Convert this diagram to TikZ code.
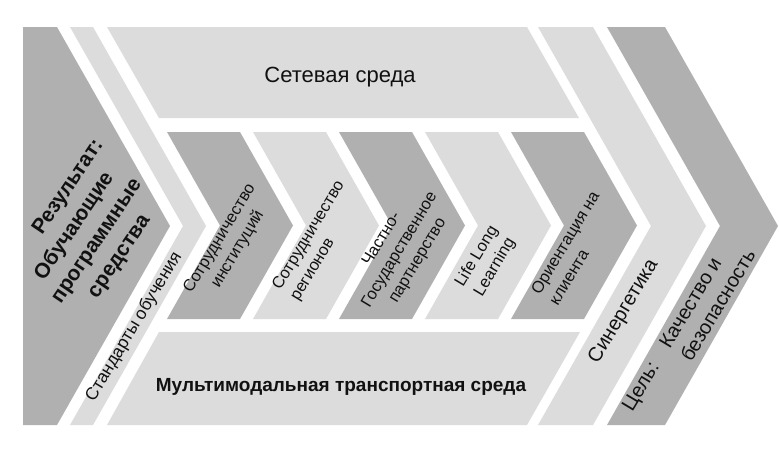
\documentclass[tikz,border=0pt]{standalone}
\usepackage{fontspec}
\setmainfont{Liberation Sans}
\usepackage{tikz}
\usetikzlibrary{calc}
\definecolor{ChevDark}{HTML}{B0B0B0}
\definecolor{ChevLight}{HTML}{DCDCDC}
\definecolor{ChevInk}{HTML}{111111}
\tikzset{
  chevlabel/.style={font=\fontsize{17.5}{21}\selectfont, text=ChevInk, inner sep=0pt},
  chevsmall/.style={font=\fontsize{16.5}{21}\selectfont, text=ChevInk, inner sep=0pt, rotate=59},
  chevbig/.style={font=\bfseries\fontsize{21}{27}\selectfont, text=ChevInk, inner sep=0pt},
  darkband/.style={fill=ChevDark, draw=none},
  lightband/.style={fill=ChevLight, draw=none}
}

\begin{document}
\begin{tikzpicture}[x=1pt, y=-1pt]
\useasboundingbox (0,0) rectangle (779,448);
\fill[white] (0,0) rectangle (779,448);
\path[darkband] (23,27) -- (57,27) -- (170,226) -- (57,425) -- (23,425) -- cycle;
\path[lightband] (70,27) -- (93,27) -- (206,226) -- (93,425) -- (70,425) -- (183,226) -- cycle;
\path[lightband] (107,27) -- (527,27) -- (579,118) -- (159,118) -- cycle;
\path[lightband] (159,332) -- (580,332) -- (527,425) -- (107,425) -- cycle;
\path[lightband] (538,27) -- (593,27) -- (706,226) -- (593,425) -- (538,425) -- (651,226) -- cycle;
\path[darkband] (607,27) -- (665,27) -- (778,226) -- (665,425) -- (607,425) -- (720,226) -- cycle;
\foreach \x/\band in {167/darkband, 253/lightband, 339/darkband, 425/lightband, 511/darkband}
  \path[\band] (\x,132) -- ++(73,0) -- ++(53,93.5) -- ++(-53,93.5) -- ++(-73,0) -- ++(53,-93.5) -- cycle;
\node[chevlabel, font=\fontsize{22}{26}\selectfont, anchor=base] (net) at (340,82) {Сетевая среда};
\node[chevlabel, font=\bfseries\fontsize{19}{23}\selectfont, anchor=base] (transport) at (341,391) {Мультимодальная транспортная среда};
\node[chevbig, rotate=56, align=center] (result) at (86,234) {\hspace*{58pt}Результат:\\Обучающие\\программные\\средства};
\node[chevlabel, rotate=59, anchor=base] (standard) at (138,329) {Стандарты обучения};
\node[chevsmall, align=center] (inst) at (229,244) {Сотрудничество\\институций};
\node[chevsmall, align=left] (region) at (318,241) {Сотрудничество\\регионов};
\node[chevsmall, align=center] (ppp) at (400,250) {Частно-\\Государственное\\партнерство};
\node[chevsmall, align=center] (lll) at (486,262) {Life Long\\Learning};
\node[chevsmall, align=left] (client) at (574,248) {Ориентация на\\клиента};
\node[chevlabel, font=\fontsize{20}{24}\selectfont, rotate=59, anchor=base] (synergy) at (628,314) {Синергетика};
\node[chevlabel, font=\fontsize{20}{25}\selectfont, rotate=59] (goal) at (690,331) {\begin{tabular}{@{}l@{\hspace{20pt}}l@{}}Цель: & Качество и\\ & безопасность\end{tabular}};
\end{tikzpicture}
\end{document}
